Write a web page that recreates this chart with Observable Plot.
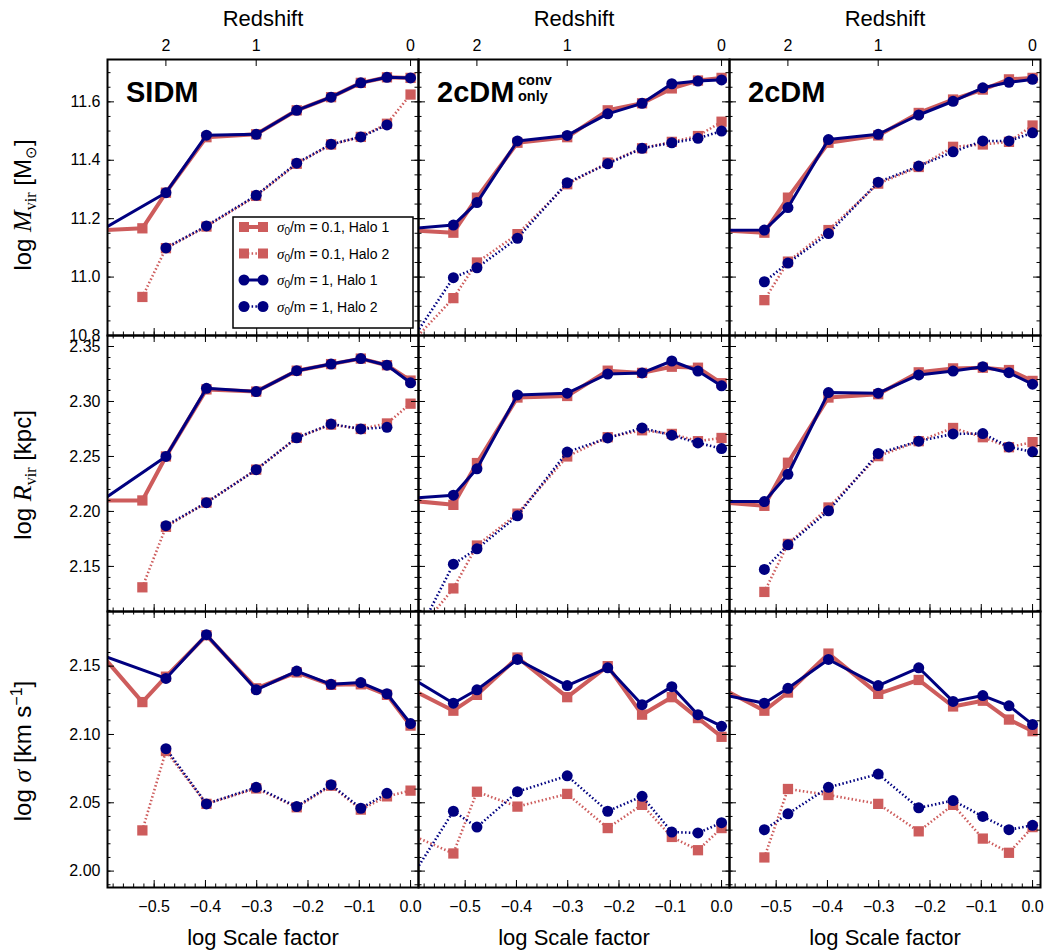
<!DOCTYPE html>
<html><head><meta charset="utf-8">
<script src="https://cdn.jsdelivr.net/npm/d3@7"></script>
<script src="https://cdn.jsdelivr.net/npm/@observablehq/plot@0.6"></script>
<style>
body{margin:0;background:#fff;}
#chart{position:relative;width:1047px;height:951px;overflow:hidden;background:#fff;}
#chart svg{position:absolute;left:0;top:0;}
</style></head><body><div id="chart"></div>
<script>
// ---------------- DATA ----------------
// log10 of scale factor a = 0.25, 0.3, 0.333, 0.4, 0.5, 0.6, 0.7, 0.8, 0.9, 1.0
const logScaleFactor = [-0.602, -0.523, -0.477, -0.398, -0.301, -0.222, -0.155, -0.097, -0.046, 0.0];
const redshiftTicks = [2, 1, 0];
const xTickValues = [-0.5, -0.4, -0.3, -0.2, -0.1, 0.0];
const modelNames = ["SIDM", "2cDM", "2cDM"];
const crossSections = ["0.1", "0.1", "1", "1"];
const haloNames = ["Halo 1", "Halo 2", "Halo 1", "Halo 2"];
// series order in every panel: [σ0/m=0.1 Halo 1, σ0/m=0.1 Halo 2, σ0/m=1 Halo 1, σ0/m=1 Halo 2]

// log M_vir
const mvirSIDM = [
  [11.160, 11.167, 11.289, 11.479, 11.489, 11.571, 11.616, 11.665, 11.684, 11.682],
  [null, 10.932, 11.099, 11.173, 11.278, 11.388, 11.454, 11.480, 11.525, 11.625],
  [11.162, null, 11.289, 11.486, 11.489, 11.571, 11.616, 11.665, 11.684, 11.682],
  [null, null, 11.100, 11.175, 11.280, 11.390, 11.455, 11.480, 11.521, null]
];
const mvirConv = [
  [11.160, 11.152, 11.272, 11.460, 11.479, 11.571, 11.595, 11.646, 11.673, 11.682],
  [10.780, 10.928, 11.050, 11.147, 11.318, 11.392, 11.441, 11.463, 11.483, 11.532],
  [11.167, 11.178, 11.255, 11.466, 11.485, 11.559, 11.595, 11.662, 11.671, 11.675],
  [10.790, 10.998, 11.032, 11.133, 11.323, 11.388, 11.441, 11.460, 11.475, 11.500]
];
const mvir2cDM = [
  [11.160, 11.152, 11.272, 11.460, 11.485, 11.562, 11.608, 11.642, 11.677, 11.682],
  [null, 10.921, 11.053, 11.161, 11.320, 11.377, 11.446, 11.454, 11.463, 11.519],
  [11.160, 11.161, 11.238, 11.471, 11.489, 11.555, 11.602, 11.648, 11.667, 11.677],
  [null, 10.984, 11.048, 11.149, 11.325, 11.380, 11.429, 11.466, 11.466, 11.494]
];
// log R_vir
const rvirSIDM = [
  [2.210, 2.210, 2.250, 2.311, 2.309, 2.328, 2.334, 2.339, 2.333, 2.319],
  [null, 2.131, 2.186, 2.208, 2.238, 2.267, 2.279, 2.275, 2.280, 2.298],
  [2.210, null, 2.250, 2.312, 2.309, 2.328, 2.334, 2.339, 2.333, 2.317],
  [null, null, 2.187, 2.208, 2.238, 2.267, 2.2795, 2.275, 2.2765, null]
];
const rvirConv = [
  [2.2096, 2.206, 2.244, 2.3036, 2.305, 2.328, 2.326, 2.3316, 2.3307, 2.3166],
  [2.085, 2.130, 2.169, 2.198, 2.250, 2.2675, 2.2738, 2.2705, 2.2639, 2.2668],
  [2.212, 2.2148, 2.2388, 2.306, 2.3075, 2.325, 2.326, 2.3368, 2.3277, 2.3142],
  [2.080, 2.152, 2.166, 2.196, 2.254, 2.2668, 2.2759, 2.2693, 2.2623, 2.2572]
];
const rvir2cDM = [
  [2.208, 2.2051, 2.2443, 2.3036, 2.3066, 2.3265, 2.3301, 2.3307, 2.3286, 2.3187],
  [null, 2.1268, 2.1705, 2.2036, 2.2503, 2.2639, 2.2759, 2.2675, 2.2584, 2.263],
  [2.209, 2.209, 2.2338, 2.3081, 2.3075, 2.3241, 2.3277, 2.3316, 2.3262, 2.3157],
  [null, 2.1473, 2.1696, 2.2006, 2.2527, 2.2639, 2.2705, 2.2708, 2.2587, 2.2542]
];
// log sigma
const sigmaSIDM = [
  [2.158, 2.1237, 2.1423, 2.1726, 2.1338, 2.1454, 2.1363, 2.1367, 2.129, 2.1065],
  [null, 2.0298, 2.0879, 2.0492, 2.0605, 2.0467, 2.0625, 2.045, 2.0547, 2.0589],
  [2.158, null, 2.141, 2.173, 2.1327, 2.1464, 2.1367, 2.138, 2.1298, 2.108],
  [null, null, 2.0896, 2.0492, 2.0613, 2.0472, 2.0632, 2.046, 2.0569, null]
];
const sigmaConv = [
  [2.1325, 2.1174, 2.129, 2.1563, 2.1273, 2.150, 2.1145, 2.1273, 2.112, 2.0983],
  [2.026, 2.0129, 2.0581, 2.0472, 2.0565, 2.0315, 2.0485, 2.025, 2.0153, 2.0315],
  [2.1406, 2.1229, 2.1327, 2.1549, 2.1358, 2.1488, 2.1218, 2.135, 2.1145, 2.106],
  [1.997, 2.0438, 2.0322, 2.0581, 2.0697, 2.0438, 2.0547, 2.0286, 2.0279, 2.0354]
];
const sigma2cDM = [
  [2.1329, 2.1174, 2.1307, 2.1592, 2.1297, 2.1399, 2.1205, 2.1247, 2.1109, 2.1024],
  [null, 2.010, 2.0601, 2.0557, 2.0492, 2.0291, 2.0485, 2.0238, 2.0134, 2.0322],
  [2.1289, 2.1229, 2.1338, 2.1549, 2.1358, 2.1488, 2.1242, 2.1285, 2.121, 2.1073],
  [null, 2.0303, 2.0419, 2.0613, 2.071, 2.0463, 2.0516, 2.04, 2.0303, 2.0335]
];
const yTicksMass = [10.8, 11.0, 11.2, 11.4, 11.6];
const yTicksRadius = [2.15, 2.20, 2.25, 2.30, 2.35];
const yTicksSigma = [2.00, 2.05, 2.10, 2.15];

// ---------------- STYLE / LAYOUT ----------------
const PINK = "#cd5c5c", NAVY = "#000080";
const seriesColor = [PINK, PINK, NAVY, NAVY];
const seriesWidth = [4, 2.6, 3, 2.6];
const seriesDash = [null, "1.5,2.3", null, "1.5,2.3"];
const seriesSymbol = ["square", "square", "circle", "circle"];
const seriesR = [5.8, 5.8, 5.5, 5.5];
const SANS = "'Liberation Sans', Arial, Helvetica, sans-serif";
const SERIF = "'Liberation Serif', 'DejaVu Serif', serif";

const PW = 1047, PH = 951, W = 311, H = 276;
const colX = [107, 418, 729];
const rowY = [59, 335, 611];
const xDomain = [-0.591, 0.0155];
const xMinor = d3.range(-29, 1).map(i => +(i * 0.02).toFixed(2));

const rowsCfg = [
  {data: [mvirSIDM, mvirConv, mvir2cDM], domain: [10.8, 11.745], major: yTicksMass,
   minor: d3.range(0, 19).map(i => +(10.8 + i * 0.05).toFixed(2)), fmt: d3.format(".1f")},
  {data: [rvirSIDM, rvirConv, rvir2cDM], domain: [2.109, 2.36], major: yTicksRadius,
   minor: d3.range(0, 25).map(i => +(2.11 + i * 0.01).toFixed(2)), fmt: d3.format(".2f")},
  {data: [sigmaSIDM, sigmaConv, sigma2cDM], domain: [1.988, 2.19], major: yTicksSigma,
   minor: d3.range(0, 20).map(i => +(1.99 + i * 0.01).toFixed(2)), fmt: d3.format(".2f")}
];
const zData = redshiftTicks.map(z => ({z, x: -Math.log10(1 + z)}));

const chart = document.getElementById("chart");
const MAJ = 7, MIN = 3.5;

function rich(svg, attrs, parts) {
  const t = d3.select(svg).append("text").attr("text-anchor", "start");
  for (const [k, v] of Object.entries(attrs)) t.attr(k, v);
  for (const p of parts) {
    const s = t.append("tspan").text(p.t);
    if (p.dy) s.attr("dy", p.dy);
    if (p.size) s.attr("font-size", p.size);
    if (p.it) s.attr("font-style", "italic");
    if (p.serif) s.attr("font-family", SERIF);
    if (p.bold) s.attr("font-weight", "bold");
    if (p.dx) s.attr("dx", p.dx);
  }
  return t;
}

for (let r = 0; r < 3; r++) {
  const cfg = rowsCfg[r];
  for (let c = 0; c < 3; c++) {
    const series = cfg.data[c];
    const marks = [];
    series.forEach((vals, s) => {
      const pts = logScaleFactor.map((x, i) => ({x, y: vals[i]})).filter(d => d.y != null);
      marks.push(Plot.line(pts, {x: "x", y: "y", stroke: seriesColor[s], strokeWidth: seriesWidth[s],
        strokeDasharray: seriesDash[s] || undefined, strokeLinecap: seriesDash[s] ? "butt" : "square",
        strokeLinejoin: "round", clip: true}));
      marks.push(Plot.dot(pts, {x: "x", y: "y", symbol: seriesSymbol[s], r: seriesR[s], fill: seriesColor[s], clip: true}));
    });
    // inward ticks
    marks.push(Plot.tickX(xTickValues, {x: d => d, insetTop: H - MAJ, stroke: "black", strokeWidth: 1}));
    marks.push(Plot.tickX(xMinor, {x: d => d, insetTop: H - MIN, stroke: "black", strokeWidth: 1}));
    if (r === 0) {
      marks.push(Plot.tickX(zData, {x: "x", insetBottom: H - MAJ, stroke: "black", strokeWidth: 1}));
    } else {
      marks.push(Plot.tickX(xTickValues, {x: d => d, insetBottom: H - MAJ, stroke: "black", strokeWidth: 1}));
      marks.push(Plot.tickX(xMinor, {x: d => d, insetBottom: H - MIN, stroke: "black", strokeWidth: 1}));
    }
    marks.push(Plot.tickY(cfg.major, {y: d => d, insetRight: W - MAJ, stroke: "black", strokeWidth: 1}));
    marks.push(Plot.tickY(cfg.minor, {y: d => d, insetRight: W - MIN, stroke: "black", strokeWidth: 1}));
    marks.push(Plot.tickY(cfg.major, {y: d => d, insetLeft: W - MAJ, stroke: "black", strokeWidth: 1}));
    marks.push(Plot.tickY(cfg.minor, {y: d => d, insetLeft: W - MIN, stroke: "black", strokeWidth: 1}));
    marks.push(Plot.frame({stroke: "black", strokeWidth: 2}));
    // axis labels
    if (c === 0) {
      marks.push(Plot.axisY(cfg.major, {anchor: "left", tickSize: 0, tickPadding: 7, tickFormat: cfg.fmt, label: null, fontSize: 16}));
    }
    if (r === 2) {
      marks.push(Plot.axisX(xTickValues, {anchor: "bottom", tickSize: 0, tickPadding: 13, tickFormat: d3.format(".1f"), label: null, fontSize: 16}));
      marks.push(Plot.text(["log Scale factor"], {text: d => d, frameAnchor: "bottom", lineAnchor: "middle", dy: 50, fontSize: 22}));
    }
    if (r === 0) {
      marks.push(Plot.text(zData, {x: "x", text: d => String(d.z), frameAnchor: "top", lineAnchor: "middle", dy: -14, fontSize: 16}));
      marks.push(Plot.text(["Redshift"], {text: d => d, frameAnchor: "top", lineAnchor: "middle", dy: -41, fontSize: 22}));
    }
    const svg = Plot.plot({
      width: PW, height: PH,
      marginLeft: colX[c], marginRight: PW - colX[c] - W,
      marginTop: rowY[r], marginBottom: PH - rowY[r] - H,
      x: {domain: xDomain, axis: null},
      y: {domain: cfg.domain, axis: null},
      style: {fontFamily: SANS, fontSize: "16px", background: "transparent", overflow: "visible", color: "black"},
      marks
    });
    chart.appendChild(svg);

    // panel titles
    if (r === 0) {
      const tx = colX[c] + 19, ty = 101.5;
      rich(svg, {x: tx, y: ty, "font-size": 29, "font-weight": "bold", fill: "black"}, [{t: modelNames[c]}]);
      if (c === 1) {
        rich(svg, {x: colX[c] + 100, y: 84.5, "font-size": 14.5, "font-weight": "bold", fill: "black"}, [{t: "conv"}]);
        rich(svg, {x: colX[c] + 100, y: 100.5, "font-size": 14.5, "font-weight": "bold", fill: "black"}, [{t: "only"}]);
      }
    }
    // y-axis titles
    if (c === 0) {
      const cy = rowY[r] + H / 2 + (r === 0 ? 8 : 2);
      const at = {transform: `translate(31,${cy}) rotate(-90)`, "text-anchor": "middle", "font-size": 24, fill: "black"};
      if (r === 0) rich(svg, at, [{t: "log "}, {t: "M", it: true, serif: true, size: 26},
        {t: "vir", serif: true, size: 16, dy: 5}, {t: " [M", dy: -5}, {t: "⊙", size: 15, dy: 5}, {t: "]", dy: -5}]);
      if (r === 1) rich(svg, at, [{t: "log "}, {t: "R", it: true, serif: true, size: 26},
        {t: "vir", serif: true, size: 16, dy: 5}, {t: " [kpc]", dy: -5}]);
      if (r === 2) rich(svg, at, [{t: "log "}, {t: "σ", it: true, serif: true, size: 26},
        {t: " [km s"}, {t: "−1", size: 16, dy: -9}, {t: "]", dy: 9}]);
    }
    // legend in the SIDM mass panel
    if (r === 0 && c === 0) {
      const g = d3.select(svg).append("g");
      g.append("rect").attr("x", 233).attr("y", 217).attr("width", 180).attr("height", 111)
        .attr("fill", "white").attr("stroke", "black").attr("stroke-width", 1.5);
      const ys = [227, 253.5, 280, 306.5];
      ys.forEach((yy, s) => {
        g.append("line").attr("x1", 244).attr("x2", 263).attr("y1", yy).attr("y2", yy)
          .attr("stroke", seriesColor[s]).attr("stroke-width", seriesWidth[s])
          .attr("stroke-dasharray", seriesDash[s] || null);
        [244, 263].forEach(mx => {
          if (seriesSymbol[s] === "square") g.append("rect").attr("x", mx - 5).attr("y", yy - 5).attr("width", 10).attr("height", 10).attr("fill", seriesColor[s]);
          else g.append("circle").attr("cx", mx).attr("cy", yy).attr("r", 5.5).attr("fill", seriesColor[s]);
        });
        rich(g.node(), {x: 277, y: yy + 5, "font-size": 14, fill: "black"},
          [{t: "σ", it: true, serif: true, size: 15}, {t: "0", size: 10, dy: 3}, {t: `/m = ${crossSections[s]}, ${haloNames[s]}`, dy: -3}]);
      });
    }
  }
}
</script></body></html>
